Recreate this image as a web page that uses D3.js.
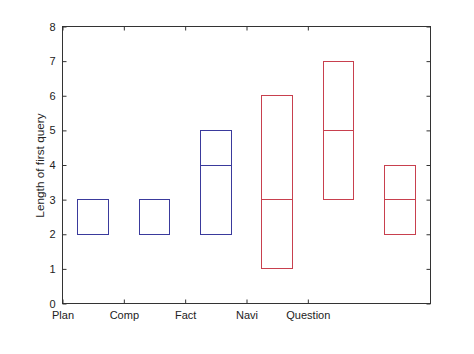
<!DOCTYPE html>
<html><head><meta charset="utf-8">
<script src="https://cdn.jsdelivr.net/npm/d3@7"></script>
<style>body{margin:0;background:#fff}svg{display:block}text{font-family:"Liberation Sans",Arial,sans-serif;font-size:11px;fill:#222}</style>
</head><body><svg id="c" width="474" height="354"></svg>
<script>
const categories = ["Plan","Comp","Fact","Navi","Question"];
const boxPositions = [0.5,1.5,2.5,3.5,4.5,5.5];
const lowerQ = [2,2,2,1,3,2];
const upperQ = [3,3,5,6,7,4];
const medians = [3,3,4,3,5,3];
const groups = ["blue","blue","blue","red","red","red"];
const yTicks = [0,1,2,3,4,5,6,7,8];
const colors = {blue:"#3a3a9c", red:"#c8404e"};

const svg = d3.select("#c");
const L=62,R=430,T=26,B=303;
const x = d3.scaleLinear().domain([0,6]).range([L,R]);
const y = d3.scaleLinear().domain([0,8]).range([B,T]);
const boxW = 0.5;

// frame
svg.append("rect").attr("x",L+0.5).attr("y",T+0.5).attr("width",R-L).attr("height",B-T)
  .attr("fill","none").attr("stroke","#333").attr("stroke-width",1);

const tickLen=4;
const yl = svg.append("g").attr("transform",`translate(${L+0.5},0.5)`)
  .call(d3.axisLeft(y).tickValues(yTicks).tickSizeInner(-tickLen).tickSizeOuter(0).tickPadding(7).tickFormat(d3.format("d")));
const yr = svg.append("g").attr("transform",`translate(${R+0.5},0.5)`)
  .call(d3.axisRight(y).tickValues(yTicks).tickSizeInner(-tickLen).tickSizeOuter(0).tickFormat(""));
const xb = svg.append("g").attr("transform",`translate(0.5,${B+0.5})`)
  .call(d3.axisBottom(x).tickValues(d3.range(categories.length)).tickSizeInner(-tickLen).tickSizeOuter(0).tickPadding(8).tickFormat(i=>categories[i]));
const xt = svg.append("g").attr("transform",`translate(0.5,${T+0.5})`)
  .call(d3.axisTop(x).tickValues(d3.range(categories.length)).tickSizeInner(-tickLen).tickSizeOuter(0).tickFormat(""));
[yl,yr,xb,xt].forEach(g=>{g.select(".domain").remove();g.selectAll("line").attr("stroke","#333");
  g.selectAll("text").attr("font-family",null).attr("font-size",null).attr("fill","#222");});

svg.append("text").attr("transform",`translate(44,${(T+B)/2+1}) rotate(-90)`)
  .attr("text-anchor","middle").style("font-size","11.8px").text("Length of first query");

const data = boxPositions.map((p,i)=>({p,lo:lowerQ[i],hi:upperQ[i],med:medians[i],c:colors[groups[i]]}));
const g = svg.append("g");
g.selectAll("rect.box").data(data).join("rect").attr("class","box")
  .attr("x",d=>Math.round(x(d.p-boxW/2))+0.5).attr("y",d=>Math.round(y(d.hi))+0.5)
  .attr("width",d=>Math.round(x(d.p+boxW/2))-Math.round(x(d.p-boxW/2)))
  .attr("height",d=>Math.round(y(d.lo))-Math.round(y(d.hi)))
  .attr("fill","none").attr("stroke",d=>d.c).attr("stroke-width",1);
g.selectAll("line.med").data(data).join("line").attr("class","med")
  .attr("x1",d=>Math.round(x(d.p-boxW/2))+0.5).attr("x2",d=>Math.round(x(d.p+boxW/2))+0.5)
  .attr("y1",d=>Math.round(y(d.med))+0.5).attr("y2",d=>Math.round(y(d.med))+0.5)
  .attr("stroke",d=>d.c).attr("stroke-width",1);
</script></body></html>
